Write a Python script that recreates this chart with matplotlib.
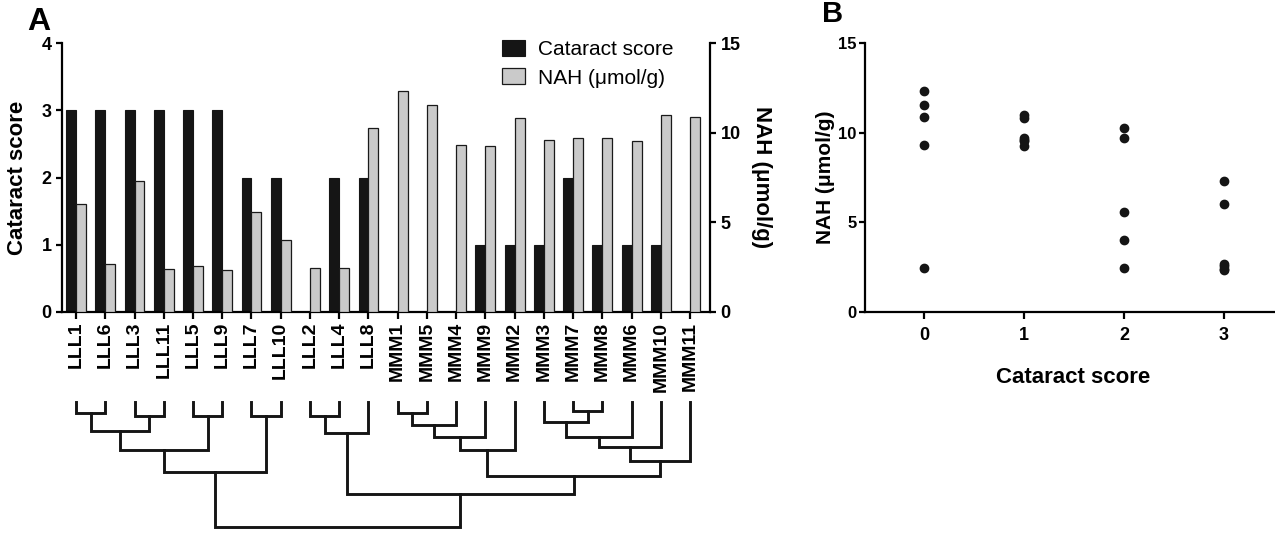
import numpy as np
import matplotlib
matplotlib.use("Agg")
import matplotlib.pyplot as plt

plt.rcParams['font.family'] = ['Liberation Sans', 'DejaVu Sans']

# samples in dendrogram order
samples = ["LLL1", "LLL6", "LLL3", "LLL11", "LLL5", "LLL9", "LLL7", "LLL10",
           "LLL2", "LLL4", "LLL8", "MMM1", "MMM5", "MMM4", "MMM9", "MMM2",
           "MMM3", "MMM7", "MMM8", "MMM6", "MMM10", "MMM11"]
cataract = [3, 3, 3, 3, 3, 3, 2, 2, 0, 2, 2, 0, 0, 0, 1, 1, 1, 2, 1, 1, 1, 0]
nah = [6.02, 2.65, 7.30, 2.37, 2.55, 2.33, 5.57, 4.00, 2.44, 2.48, 10.25,
       12.35, 11.57, 9.33, 9.24, 10.79, 9.58, 9.69, 9.69, 9.56, 11.01, 10.88]

# dendrogram merges: (name, left, right, height)
merges = [
    ("a1", "LLL1", "LLL6", 11),
    ("a2", "LLL3", "LLL11", 14),
    ("a3", "LLL5", "LLL9", 14),
    ("a4", "LLL7", "LLL10", 14),
    ("a5", "a1", "a2", 29),
    ("a6", "a5", "a3", 48),
    ("A", "a6", "a4", 70),
    ("b1", "LLL2", "LLL4", 14),
    ("b2", "b1", "LLL8", 31),
    ("m1", "MMM1", "MMM5", 11),
    ("m2", "m1", "MMM4", 23),
    ("m3", "m2", "MMM9", 35),
    ("m4", "m3", "MMM2", 48),
    ("n1", "MMM7", "MMM8", 9),
    ("n2", "MMM3", "n1", 20),
    ("n3", "n2", "MMM6", 35),
    ("n4", "n3", "MMM10", 45),
    ("n5", "n4", "MMM11", 59),
    ("M", "m4", "n5", 74),
    ("B", "b2", "M", 92),
    ("root", "A", "B", 125),
]

W, H = 1275, 533
fig = plt.figure(figsize=(W / 100, H / 100), dpi=100)

def box(l, t, r, b):
    return [l / W, 1 - b / H, (r - l) / W, (b - t) / H]

lw = 1.6
dark = '#151515'

######################
# panel A: bars

ax = fig.add_axes(box(62, 43, 710, 312))
ax2 = ax.twinx()
x = np.arange(len(samples))
bw = 0.34
b1 = ax.bar(x - bw / 2, cataract, bw, color=dark, edgecolor=dark, linewidth=0.8,
            label='Cataract score')
b2 = ax2.bar(x + bw / 2, nah, bw, color='#cacaca', edgecolor='#1a1a1a', linewidth=0.9,
             label='NAH (\u03bcmol/g)')
ax.set_xlim(-0.48, len(samples) - 1 + 0.68)
ax.set_ylim(0, 4)
ax2.set_ylim(0, 15)
ax.set_yticks([0, 1, 2, 3, 4])
ax2.set_yticks([0, 5, 10, 15])
ax.set_xticks(x)
ax.set_xticklabels(samples, rotation=90, fontsize=14, fontweight='bold')
for a in (ax, ax2):
    a.spines['top'].set_visible(False)
    for s in a.spines.values():
        s.set_linewidth(lw)
    a.tick_params(axis='y', length=4, width=lw, labelsize=13)
    for t in a.get_yticklabels():
        t.set_fontweight('bold')
ax.spines['right'].set_visible(False)
ax2.spines['left'].set_visible(False)
ax2.spines['bottom'].set_visible(False)
ax.tick_params(axis='x', length=5, width=lw, pad=2)

ax.set_ylabel('Cataract score', fontsize=16, fontweight='bold', va='center')
ax.yaxis.set_label_coords(-0.069, 0.5)
ax2.set_ylabel('NAH (\u03bcmol/g)', fontsize=16, fontweight='bold', rotation=270,
               va='center')
ax2.yaxis.set_label_coords(1.080, 0.5)

ax2.legend(handles=[b1, b2], loc='upper left', bbox_to_anchor=(0.679, 1.012),
           frameon=False, fontsize=15, borderpad=0, borderaxespad=0,
           handlelength=1.1, handleheight=0.8, handletextpad=0.65,
           labelspacing=0.45)

fig.text(27 / W, 1 - 22 / H, 'A', fontsize=23, fontweight='bold', va='center')

######################
# dendrogram

axd = fig.add_axes(box(62, 402, 710, 527), sharex=ax)
pos = {s: i for i, s in enumerate(samples)}
hgt = {s: 0 for s in samples}
for name, left, right, h in merges:
    xl, xr = pos[left], pos[right]
    axd.plot([xl, xl, xr, xr], [hgt[left], h, h, hgt[right]], color=dark,
             linewidth=2.1, solid_joinstyle='miter', clip_on=False)
    pos[name] = (xl + xr) / 2
    hgt[name] = h
axd.set_ylim(125, 0)
axd.axis('off')

######################
# panel B: scatter

axb = fig.add_axes(box(865, 43, 1275, 312))
axb.plot(cataract, nah, 'o', color=dark, markersize=6, clip_on=False)
axb.set_xlim(-0.59, 3.51)
axb.set_ylim(0, 15)
axb.set_xticks([0, 1, 2, 3])
axb.set_yticks([0, 5, 10, 15])
axb.spines['top'].set_visible(False)
axb.spines['right'].set_visible(False)
for s in axb.spines.values():
    s.set_linewidth(lw)
axb.tick_params(axis='x', length=5, width=lw, labelsize=13, pad=6)
axb.tick_params(axis='y', length=4, width=lw, labelsize=12, pad=2)
for t in axb.get_xticklabels() + axb.get_yticklabels():
    t.set_fontweight('bold')
axb.set_xlabel('Cataract score', fontsize=16, fontweight='bold', va='center')
axb.xaxis.set_label_coords(0.507, -0.245)
axb.set_ylabel('NAH (\u03bcmol/g)', fontsize=15, fontweight='bold', va='center')
axb.yaxis.set_label_coords(-0.097, 0.5)

fig.text(822 / W, 1 - 14 / H, 'B', fontsize=21, fontweight='bold', va='center')

plt.savefig('out.png', dpi=100)
